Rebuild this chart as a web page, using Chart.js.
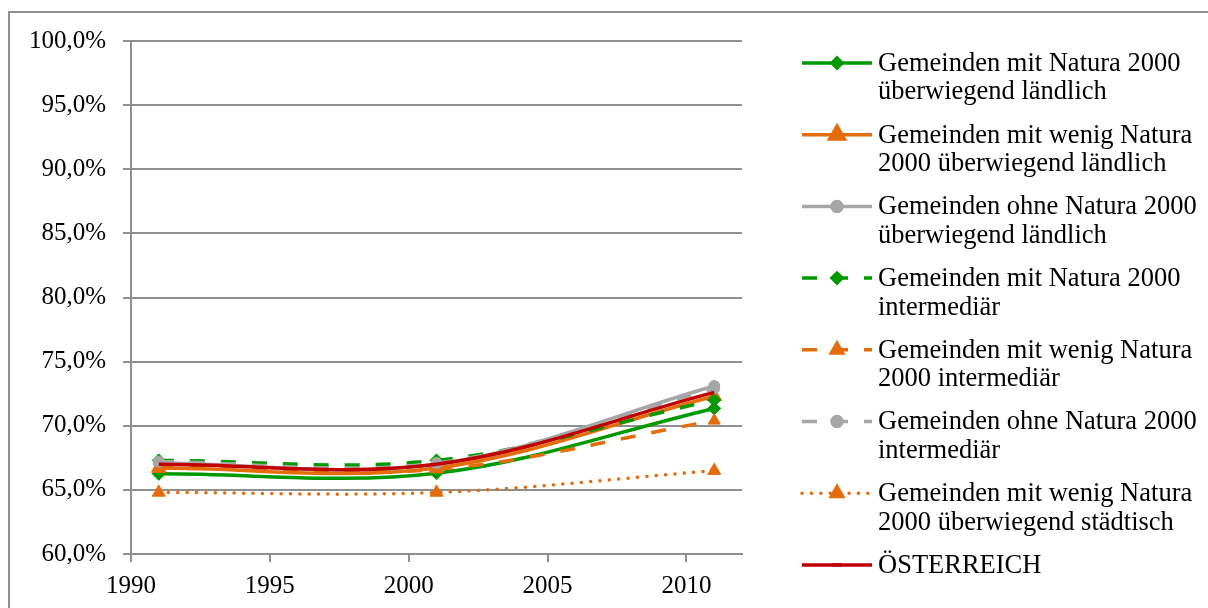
<!DOCTYPE html>
<html>
<head>
<meta charset="utf-8">
<script src="https://cdn.jsdelivr.net/npm/chart.js@4"></script>
<style>
  body { margin: 0; background: #fff; }
  #wrap { width: 1208px; height: 608px; }
</style>
</head>
<body>
<div id="wrap"><canvas id="myChart" width="1208" height="608"></canvas></div>
<script>
// years of the census points
let years = [1991, 2001, 2011];

// share in percent
let mitLaendlich = [66.25, 66.3, 71.35];
let wenigLaendlich = [66.7, 66.7, 72.3];
let ohneLaendlich = [67.1, 67.0, 73.1];
let mitIntermediaer = [67.3, 67.3, 72.0];
let wenigIntermediaer = [66.8, 66.6, 70.4];
let ohneIntermediaer = [67.2, 67.1, 72.9];
let wenigStaedtisch = [64.8, 64.8, 66.5];
let oesterreich = [67.0, 67.0, 72.6];

let seriesNames = [
    ["Gemeinden mit Natura 2000", "überwiegend ländlich"],
    ["Gemeinden mit wenig Natura", "2000 überwiegend ländlich"],
    ["Gemeinden ohne Natura 2000", "überwiegend ländlich"],
    ["Gemeinden mit Natura 2000", "intermediär"],
    ["Gemeinden mit wenig Natura", "2000 intermediär"],
    ["Gemeinden ohne Natura 2000", "intermediär"],
    ["Gemeinden mit wenig Natura", "2000 überwiegend städtisch"],
    ["ÖSTERREICH"]
];

let yTicks = [60, 65, 70, 75, 80, 85, 90, 95, 100];
let xTicks = [1990, 1995, 2000, 2005, 2010];

const green = "#009a00";
const orange = "#e46c0a";
const grey = "#a6a6a6";
const red = "#c00000";
const gridGrey = "#8f8f8f";
const serif = "'Liberation Serif', 'Times New Roman', serif";

function pts(values) {
    return values.map((v, i) => ({ x: years[i], y: v }));
}

function makeSet(i, values, color, dash, style, radius, legendRadius) {
    return {
        label: seriesNames[i].join(" "),
        data: pts(values),
        borderColor: color,
        backgroundColor: color,
        borderWidth: 3.5,
        borderDash: dash,
        borderCapStyle: dash.length && dash[0] < 1 ? "round" : "butt",
        pointStyle: style,
        pointRadius: radius,
        pointBackgroundColor: color,
        pointBorderColor: color,
        pointBorderWidth: 1,
        legendRadius: legendRadius,
        tension: 0.35,
        order: 7 - i
    };
}

let datasets = [
    makeSet(0, mitLaendlich, green, [], "rectRot", 6.5, 5),
    makeSet(1, wenigLaendlich, orange, [], "triangle", 8.5, 8.5),
    makeSet(2, ohneLaendlich, grey, [], "circle", 5.5, 5),
    makeSet(3, mitIntermediaer, green, [15, 16], "rectRot", 6.5, 5),
    makeSet(4, wenigIntermediaer, orange, [15, 16], "triangle", 7, 6.5),
    makeSet(5, ohneIntermediaer, grey, [15, 16], "circle", 5.5, 5),
    makeSet(6, wenigStaedtisch, orange, [0.1, 9.3], "triangle", 7.5, 6.5),
    makeSet(7, oesterreich, red, [], "line", 0, 5)
];

// frame round the whole chart (only left and top edges are inside the picture)
const framePlugin = {
    id: "frame",
    beforeDraw(chart) {
        const ctx = chart.ctx;
        ctx.save();
        ctx.strokeStyle = gridGrey;
        ctx.lineWidth = 2;
        ctx.strokeRect(9, 12, 1220, 620);
        ctx.restore();
    }
};

// legend on the right with two-line labels
const sideLegend = {
    id: "sideLegend",
    afterDraw(chart) {
        const ctx = chart.ctx;
        ctx.save();
        chart.data.datasets.forEach((ds, i) => {
            const y0 = 63 + i * 71.7;
            ctx.strokeStyle = ds.borderColor;
            ctx.lineWidth = ds.borderWidth;
            ctx.lineCap = ds.borderCapStyle;
            ctx.setLineDash(ds.borderDash);
            ctx.beginPath();
            ctx.moveTo(802, y0);
            ctx.lineTo(872, y0);
            ctx.stroke();
            ctx.setLineDash([]);
            ctx.lineCap = "butt";
            ctx.fillStyle = ds.borderColor;
            ctx.strokeStyle = ds.borderColor;
            Chart.helpers.drawPoint(ctx, {
                pointStyle: ds.pointStyle,
                radius: ds.legendRadius,
                rotation: 0,
                borderWidth: ds.pointStyle === "line" ? 5 : 1
            }, 837, y0);
            ctx.fillStyle = "#000";
            ctx.font = "26.5px " + serif;
            ctx.textAlign = "left";
            ctx.textBaseline = "middle";
            seriesNames[i].forEach((line, k) => {
                ctx.fillText(line, 878, y0 + 1 + k * 28.5);
            });
        });
        ctx.restore();
    }
};

Chart.defaults.font.family = serif;
Chart.defaults.font.size = 25;
Chart.defaults.color = "#000";

new Chart("myChart", {
    type: "line",
    data: { datasets: datasets },
    options: {
        responsive: false,
        animation: false,
        events: [],
        layout: { padding: { top: 41, right: 466, left: 0, bottom: 0 } },
        plugins: {
            legend: { display: false },
            tooltip: { enabled: false }
        },
        scales: {
            x: {
                type: "linear",
                min: 1990,
                max: 2012,
                afterFit(scale) { scale.height = 54; },
                afterBuildTicks(scale) { scale.ticks = xTicks.map(v => ({ value: v })); },
                ticks: {
                    padding: 9,
                    maxRotation: 0,
                    callback: v => String(v)
                },
                grid: {
                    drawOnChartArea: false,
                    drawTicks: true,
                    tickLength: 8,
                    color: gridGrey,
                    lineWidth: 2
                },
                border: { display: true, color: gridGrey, width: 2 }
            },
            y: {
                min: 60,
                max: 100,
                afterFit(scale) { scale.width = 131; },
                afterBuildTicks(scale) { scale.ticks = yTicks.map(v => ({ value: v })); },
                ticks: {
                    padding: 17,
                    callback: v => v.toFixed(1).replace(".", ",") + "%"
                },
                grid: {
                    drawTicks: true,
                    tickLength: 8,
                    color: gridGrey,
                    lineWidth: 2
                },
                border: { display: true, color: gridGrey, width: 2 }
            }
        }
    },
    plugins: [framePlugin, sideLegend]
});
</script>
</body>
</html>
